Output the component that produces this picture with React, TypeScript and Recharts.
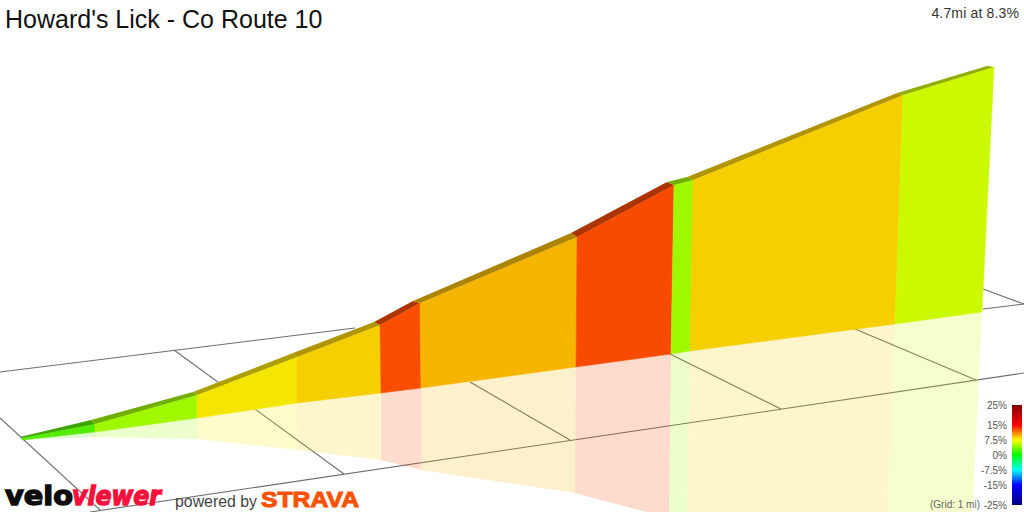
import React from "react";
import { Bar, BarChart, Scatter, ScatterChart, XAxis, YAxis } from "recharts";

// Projected 3D profile: x runs 0-1024, y runs 0-512 (down).
const wallTopX = [22, 95, 197, 297, 380, 420, 577, 674, 693, 903, 994];
const wallTopY = [438, 424, 395, 357, 325, 303, 237, 185, 180, 95, 67];
const wallBaseX = [22, 95, 197, 297, 381, 421, 576, 671, 690, 895, 982];
const wallBaseY = [440, 432, 418, 403, 393, 388, 367, 354, 351, 324, 312];
const roadBackX = [20, 91, 193, 293, 374, 413, 571, 667, 687, 897, 987];
const roadBackY = [437, 420, 392, 353, 322, 301, 233, 182, 177, 93, 66];
const mirrorX = [22, 96, 198, 298, 381, 421, 575, 669, 687, 886, 971];
const mirrorY = [440, 437, 439, 450, 460, 470, 493, 518, 520, 530, 540];

const wallColors = ["#55ec00", "#a0f800", "#f5e600", "#f5cf00", "#f94e00", "#f5b500", "#f94b00", "#a0f800", "#f5cf00", "#ccf800"];
const roadColors = ["#3ba500", "#70ae00", "#ac9f00", "#b09400", "#ac3500", "#ac8400", "#ac3400", "#70ae00", "#b09400", "#90ae00"];

const gridLines = [
  [[0, 372], [355, 328]],
  [[983, 309], [1024, 304]],
  [[90, 512], [1024, 373]],
  [[0, 418], [100, 510]],
  [[174, 350], [344, 474]],
  [[470, 382], [570, 440]],
  [[670, 354], [781, 409]],
  [[855, 329], [976, 380]],
  [[983, 289], [1024, 304]],
];

const gradeLabels = ["25%", "15%", "7.5%", "0%", "-7.5%", "-15%", "-25%"];
const gradePositions = [0, 20, 35, 50, 65, 80, 100];
const gradeColors = ["#800000", "#ff0000", "#ffff00", "#00ff00", "#00ffff", "#0000ff", "#000080"];

const toPoints = (pairs: number[][]) => pairs.map(([x, y]) => ({ x, y }));

const segments = wallColors.map((_, i) => ({
  wall: toPoints([
    [wallTopX[i], wallTopY[i]],
    [wallTopX[i + 1], wallTopY[i + 1]],
    [wallBaseX[i + 1], wallBaseY[i + 1]],
    [wallBaseX[i], wallBaseY[i]],
    [wallTopX[i], wallTopY[i]],
  ]),
  road: toPoints([
    [roadBackX[i], roadBackY[i]],
    [roadBackX[i + 1], roadBackY[i + 1]],
    [wallTopX[i + 1], wallTopY[i + 1]],
    [wallTopX[i], wallTopY[i]],
  ]),
  mirror: toPoints([
    [wallBaseX[i], wallBaseY[i]],
    [wallBaseX[i + 1], wallBaseY[i + 1]],
    [mirrorX[i + 1], mirrorY[i + 1]],
    [mirrorX[i], mirrorY[i]],
  ]),
}));

const legendData = [{ name: "grade", span: 100 }];

const noDot = () => <g />;

const sans = "'Liberation Sans', Arial, sans-serif";

export default function App() {
  return (
    <div style={{ position: "absolute", left: 0, top: 0, width: 1024, height: 512, overflow: "hidden", background: "#fff", fontFamily: sans }}>
      <ScatterChart width={1024} height={512} margin={{ top: 0, right: 0, bottom: 0, left: 0 }}>
        <XAxis type="number" dataKey="x" domain={[0, 1024]} hide allowDataOverflow />
        <YAxis type="number" dataKey="y" domain={[0, 512]} reversed hide allowDataOverflow />
        {gridLines.map((line, i) => (
          <Scatter key={`grid-${i}`} data={toPoints(line)} shape={noDot} line={{ stroke: "#6c6c6c", strokeWidth: 1.1, fill: "none" }} isAnimationActive={false} />
        ))}
        {segments.map((s, i) => (
          <Scatter key={`mirror-${i}`} data={s.mirror} shape={noDot} line={{ stroke: "none", fill: wallColors[i], fillOpacity: 0.2 }} isAnimationActive={false} />
        ))}
        {segments.map((s, i) => (
          <Scatter key={`wall-${i}`} data={s.wall} shape={noDot} line={{ stroke: wallColors[i], strokeWidth: 0.5, fill: wallColors[i] }} isAnimationActive={false} />
        ))}
        {segments.map((s, i) => (
          <Scatter key={`road-${i}`} data={s.road} shape={noDot} line={{ stroke: "none", fill: roadColors[i] }} isAnimationActive={false} />
        ))}
      </ScatterChart>

      <div style={{ position: "absolute", left: 920, top: 398 }}>
        <BarChart width={104} height={114} data={legendData} barCategoryGap={0} margin={{ top: 7, right: 2, bottom: 7, left: 0 }}>
          <defs>
            <linearGradient id="gradeScale" x1="0" y1="0" x2="0" y2="1">
              {gradeColors.map((c, i) => (
                <stop key={c} offset={`${gradePositions[i]}%`} stopColor={c} />
              ))}
            </linearGradient>
          </defs>
          <XAxis type="category" dataKey="name" hide />
          <YAxis
            type="number"
            width={92}
            domain={[0, 100]}
            reversed
            ticks={gradePositions}
            interval={0}
            axisLine={false}
            tickLine={false}
            tickMargin={-1}
            tickSize={6}
            tickFormatter={(v: number) => gradeLabels[gradePositions.indexOf(v)]}
            tick={{ fontSize: 10, fill: "#555555", fontFamily: sans }}
          />
          <Bar dataKey="span" fill="url(#gradeScale)" isAnimationActive={false} />
        </BarChart>
      </div>

      <div style={{ position: "absolute", left: 930, top: 499, fontSize: 10, lineHeight: "12px", color: "#666", whiteSpace: "nowrap" }}>(Grid: 1 mi)</div>
      <div style={{ position: "absolute", left: 5, top: 4, fontSize: 25, lineHeight: "30px", color: "#111", whiteSpace: "nowrap" }}>Howard's Lick - Co Route 10</div>
      <div style={{ position: "absolute", right: 5, top: 5, fontSize: 14, lineHeight: "16px", letterSpacing: 0.15, color: "#333", whiteSpace: "nowrap" }}>4.7mi at 8.3%</div>

      <svg width={1024} height={512} style={{ position: "absolute", left: 0, top: 0 }}>
        <text x={5} y={505} fontSize={27} fontWeight={700} fontFamily="'DejaVu Sans', sans-serif" fill="#0c0c0c" stroke="#0c0c0c" strokeWidth={1.4} textLength={68} lengthAdjust="spacingAndGlyphs">velo</text>
        <text x={72} y={505} fontSize={27} fontWeight={700} fontStyle="italic" fontFamily="'DejaVu Sans', sans-serif" fill="#f7103c" stroke="#f7103c" strokeWidth={1.4} textLength={89} lengthAdjust="spacingAndGlyphs">viewer</text>
        <text x={175} y={507} fontSize={16} fontFamily={sans} fill="#444444" textLength={82} lengthAdjust="spacingAndGlyphs">powered by</text>
        <text x={261} y={507} fontSize={22} fontWeight={700} fontFamily={sans} fill="#fc5200" stroke="#fc5200" strokeWidth={1} textLength={98} lengthAdjust="spacingAndGlyphs">STRAVA</text>
      </svg>
    </div>
  );
}
